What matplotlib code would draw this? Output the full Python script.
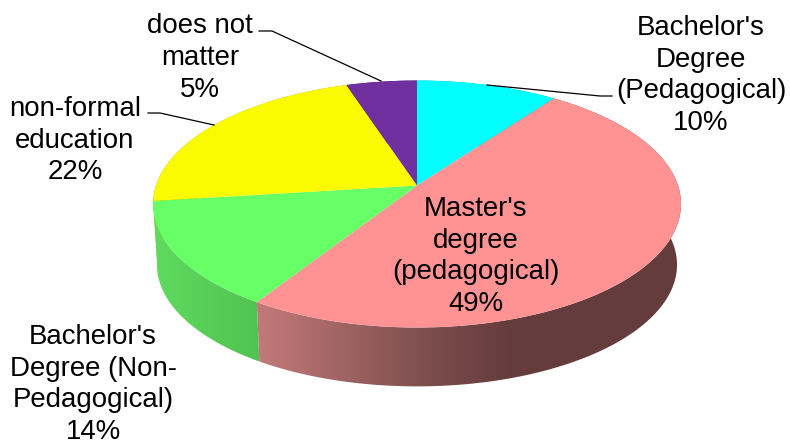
import numpy as np
import matplotlib
matplotlib.use("Agg")
import matplotlib.pyplot as plt
from matplotlib.colors import LinearSegmentedColormap
from matplotlib.patches import Polygon

labels = ["Bachelor's\nDegree\n(Pedagogical)", "Master's\ndegree\n(pedagogical)",
          "Bachelor's\nDegree (Non-\nPedagogical)", "non-formal\neducation", "does not\nmatter"]
values = [10, 49, 14, 22, 5]
colors = ["#00FFFF", "#FF9393", "#66FF66", "#FAFA00", "#7030A0"]
side_colors = ["#00B0B0", "#653C3C", "#50C250", "#B0B000", "#4A2070"]

# label centres in pixels
label_x = [701, 476, 93, 75, 200]
label_y = [75.5, 256.5, 384.5, 140.5, 58]

plt.rcParams["font.family"] = ["Liberation Sans", "DejaVu Sans"]

# perspective of the tilted disc, in pixels
x0, y0 = 417, 185.5
A, B, k = 261.0, 120.7, 0.15
depth = 61
shrink = 0.985


def project(theta, scale=1.0, dy=0.0):
    d = 1 + k * np.cos(theta)
    return x0 + scale * A * np.sin(theta) / d, y0 + dy - scale * B * np.cos(theta) / d


fig = plt.figure(figsize=(7.9, 4.42), dpi=100)
ax = fig.add_axes([0, 0, 1, 1])

edges = np.cumsum([0] + values) / sum(values) * 2 * np.pi

# side walls, the top faces cover whatever is at the back
pink_map = LinearSegmentedColormap.from_list("pink_side", [(0, "#C67B7B"), (0.40, "#7F4F4F"), (0.60, "#653C3C"), (1, "#653C3C")])
green_map = LinearSegmentedColormap.from_list("green_side", ["#5FDC5F", "#50C250"])
grads = {1: (pink_map, 250, 682), 2: (green_map, 150, 262)}
for i in range(len(values)):
    t = np.linspace(edges[i], edges[i + 1], 200)
    xt, yt = project(t)
    xb, yb = project(t, shrink, depth)
    pts = np.column_stack([np.r_[xt, xb[::-1]], np.r_[yt, yb[::-1]]])
    poly = Polygon(pts, closed=True, fc="none" if i in grads else side_colors[i], ec="none", zorder=1)
    ax.add_patch(poly)
    if i in grads:
        cmap, g0, g1 = grads[i]
        im = ax.imshow(np.linspace(0, 1, 256).reshape(1, -1), cmap=cmap, extent=(g0, g1, 442, 0),
                       aspect="auto", zorder=1.5)
        im.set_clip_path(poly)
ax.set_xlim(0, 790)
ax.set_ylim(442, 0)
ax.axis("off")

# top faces
for i in range(len(values)):
    t = np.linspace(edges[i], edges[i + 1], 200)
    xt, yt = project(t)
    pts = np.column_stack([np.r_[x0, xt], np.r_[y0, yt]])
    ax.add_patch(Polygon(pts, closed=True, fc=colors[i], ec="none", zorder=2))

# leader lines
ax.plot([487, 600, 612], [85, 96, 96], color="black", lw=0.9, zorder=3)
ax.plot([148, 160, 214], [113, 113, 125], color="black", lw=0.9, zorder=3)
ax.plot([259, 272, 381], [31, 31, 81], color="black", lw=0.9, zorder=3)

for i in range(len(values)):
    ax.text(label_x[i], label_y[i], f"{labels[i]}\n{values[i]}%", ha="center", va="center",
            ma="center", fontsize=19.9, linespacing=1.28, color="black", zorder=4)

fig.savefig("out.png", dpi=100)
